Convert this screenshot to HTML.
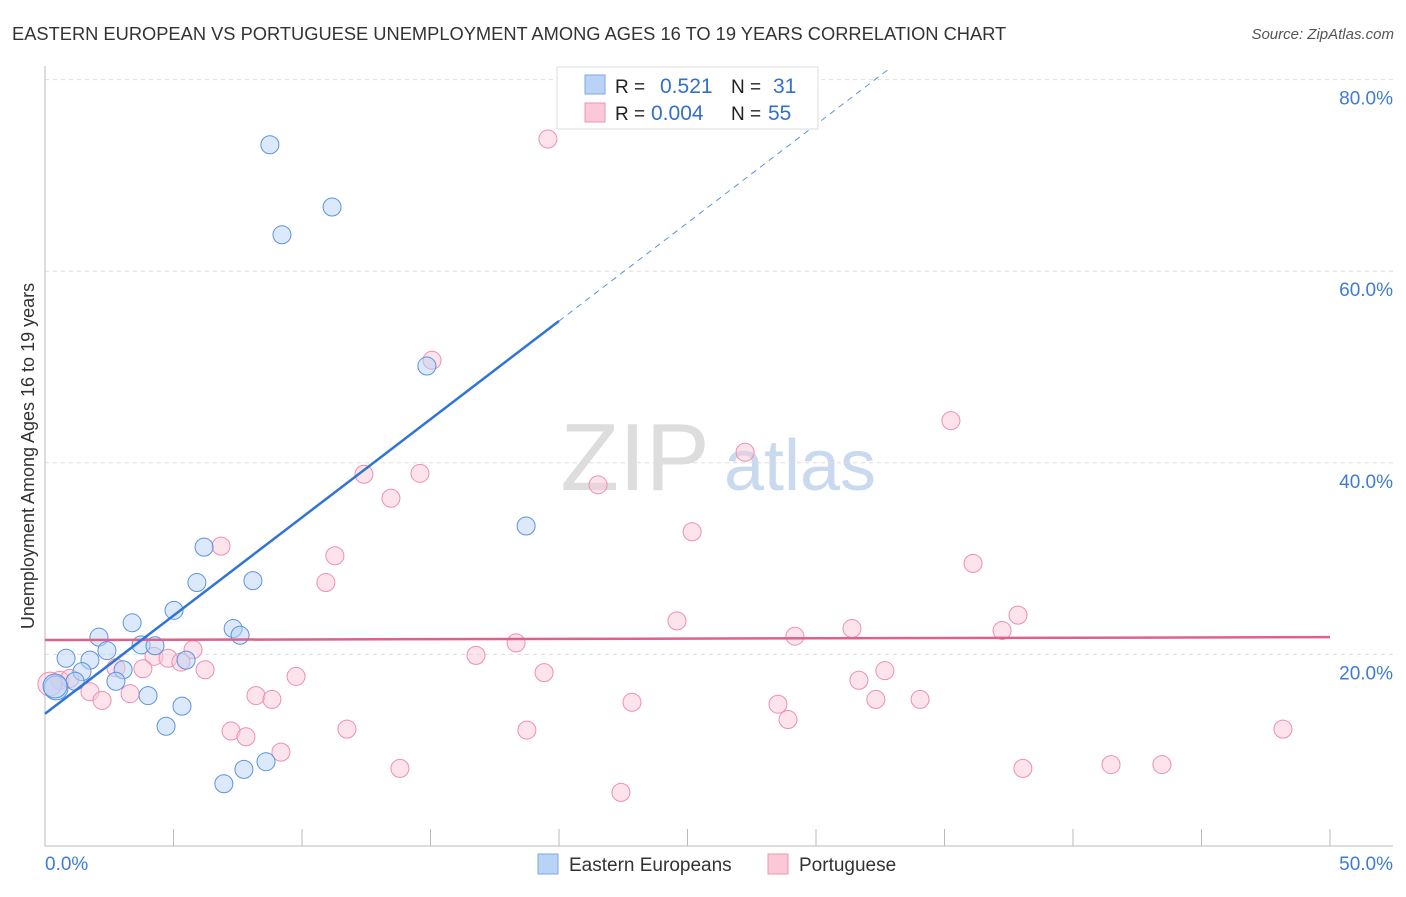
<!DOCTYPE html>
<html><head><meta charset="utf-8"><style>
body{margin:0;background:#fff;font-family:"Liberation Sans",sans-serif}
svg text{font-family:"Liberation Sans",sans-serif}
</style></head><body>
<svg id="c" width="1406" height="892">
<text x="12" y="40" font-size="18.3" fill="#333">EASTERN EUROPEAN VS PORTUGUESE UNEMPLOYMENT AMONG AGES 16 TO 19 YEARS CORRELATION CHART</text>
<text x="1394" y="39" font-size="15" fill="#555" text-anchor="end" font-style="italic">Source: ZipAtlas.com</text>
<text x="635" y="490" font-size="96" fill="#ddd" font-family="Liberation Serif" text-anchor="middle">ZIP</text>
<text x="800" y="490" font-size="72" fill="#c9d9ef" text-anchor="middle">atlas</text>
<text transform="translate(34,456) rotate(-90)" font-size="18" fill="#333" text-anchor="middle">Unemployment Among Ages 16 to 19 years</text>
<g id="grid"></g><g id="marks"></g>
<g>
<rect x="557" y="67" width="261" height="62" fill="#fff" stroke="#ddd"/>
<rect x="585" y="75" width="20" height="19" fill="#b8d3f5" stroke="#7aa8e6"/>
<rect x="585" y="103" width="20" height="19" fill="#fbc8d8" stroke="#ee95b3"/>
<text x="615" y="93" font-size="19" fill="#222">R = </text><text x="660" y="93" font-size="21" fill="#3370cc">0.521</text>
<text x="731" y="93" font-size="19" fill="#222">N = </text><text x="773" y="93" font-size="21" fill="#3370cc">31</text>
<text x="615" y="120" font-size="19" fill="#222">R = </text><text x="651" y="120" font-size="21" fill="#3370cc">0.004</text>
<text x="731" y="120" font-size="19" fill="#222">N = </text><text x="768" y="120" font-size="21" fill="#3370cc">55</text>
</g>
<g>
<rect x="538" y="854" width="20" height="20" fill="#b8d3f5" stroke="#7aa8e6"/>
<text x="569" y="871" font-size="19" fill="#333">Eastern Europeans</text>
<rect x="768" y="854" width="20" height="20" fill="#fbc8d8" stroke="#ee95b3"/>
<text x="799" y="871" font-size="19" fill="#333">Portuguese</text>
</g>
</svg>
<script>
const blueX=[8.75,11.17,9.22,14.86,18.72,6.19,5.91,8.09,5.02,3.39,7.32,7.59,2.10,3.74,4.28,2.41,0.82,1.75,5.49,1.44,3.04,2.76,1.17,0.43,4.01,5.33,4.71,7.74,8.60,6.96,0.39];
const blueY=[73.2,66.7,63.8,50.1,33.4,31.2,27.5,27.7,24.6,23.3,22.7,22.0,21.8,21.0,20.9,20.4,19.6,19.4,19.4,18.2,18.4,17.2,17.2,16.5,15.7,14.6,12.5,8.0,8.8,6.5,16.7];
const pinkX=[19.57,15.06,35.25,27.24,12.41,14.59,21.52,13.46,25.18,6.85,11.28,36.11,10.93,37.86,24.59,37.24,31.40,29.18,18.33,16.77,5.76,4.24,4.79,5.29,6.23,3.81,32.68,9.77,19.42,31.67,2.76,1.75,2.22,3.31,8.21,8.83,22.84,32.33,34.05,28.52,28.91,7.24,7.82,11.75,18.75,48.17,9.18,13.81,38.05,41.48,43.46,22.41,0.58,0.19,0.97];
const pinkY=[73.8,50.7,44.4,41.1,38.8,38.9,37.7,36.3,32.8,31.3,30.3,29.5,27.5,24.1,23.5,22.5,22.7,21.9,21.2,19.9,20.5,19.8,19.6,19.2,18.4,18.5,18.3,17.7,18.1,17.3,18.6,16.1,15.2,15.9,15.7,15.3,15.0,15.3,15.3,14.8,13.2,12.0,11.4,12.2,12.1,12.2,9.8,8.1,8.1,8.5,8.5,5.6,17.3,16.9,17.5];
const yTicks=[20,40,60,80];
const yTickLabels=["20.0%","40.0%","60.0%","80.0%"];
const blueTrend=[13.8,2.05]; // intercept, slope
const pinkTrend=[21.5,21.8]; // y at x=0, x=50
const NS="http://www.w3.org/2000/svg";
const sx=v=>45+v*25.7, sy=v=>846-v*9.58;
function mk(t,a,p){const e=document.createElementNS(NS,t);for(const k in a)e.setAttribute(k,a[k]);p.appendChild(e);return e;}
const grid=document.getElementById('grid'),marks=document.getElementById('marks');
yTicks.forEach((t,i)=>{
 const g=mk('line',{x1:45,x2:1393,y1:sy(t),y2:sy(t),stroke:'#ddd','stroke-dasharray':'4,4'},grid);
 
 
 const l=mk('text',{x:1393,y:sy(t)+25,'font-size':19,fill:'#3f7bd6','text-anchor':'end'},grid);
 l.textContent=yTickLabels[i];
 
 
});
const ax=mk('path',{d:'M45,66V846H1393',stroke:'#bbb',fill:'none'},grid);


for(let i=0;i<=10;i++){const t=mk('line',{x1:sx(i*5),x2:sx(i*5),y1:829,y2:846,stroke:'#bbb'},grid);
 
 }
const x0=mk('text',{x:45,y:870,'font-size':19,fill:'#3f7bd6'},grid);x0.textContent='0.0%';


const x1=mk('text',{x:1393,y:870,'font-size':19,fill:'#3f7bd6','text-anchor':'end'},grid);x1.textContent='50.0%';


function dots(X,Y,fill,stroke,name){X.forEach((x,i)=>{const c=mk('circle',{cx:sx(x),cy:sy(Y[i]),r:(x<0.5?12:9),fill:fill,'fill-opacity':0.5,stroke:stroke,'stroke-width':1},marks);
 
 });}
dots(pinkX,pinkY,'#fbc8d8','#ee8fb0','portuguese-point');
dots(blueX,blueY,'#b8d3f5','#5b93e0','eastern-european-point');
const pl=mk('line',{x1:sx(0),x2:sx(50),y1:sy(pinkTrend[0]),y2:sy(pinkTrend[1]),stroke:'#e0608a','stroke-width':2.5},marks);


const bl=mk('line',{x1:sx(0),x2:sx(20),y1:sy(blueTrend[0]),y2:sy(blueTrend[0]+blueTrend[1]*20),stroke:'#2f74d6','stroke-width':2.5},marks);


const xe=(81-blueTrend[0])/blueTrend[1];
const bd=mk('line',{x1:sx(20),x2:sx(xe),y1:sy(blueTrend[0]+blueTrend[1]*20),y2:sy(81),stroke:'#5b93e0','stroke-width':1,'stroke-dasharray':'6,5'},marks);


</script>
</body></html>
